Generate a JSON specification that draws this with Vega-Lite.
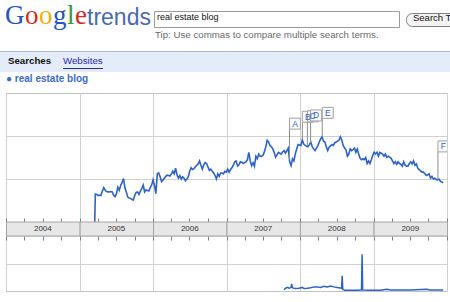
{
"$schema": "https://vega.github.io/schema/vega-lite/v6.json",
"padding": 0,
"background": "white",
"spacing": 0,
"config": {
  "view": {"stroke": null},
  "font": "Liberation Sans",
  "title": {"anchor": "start", "frame": "group", "baseline": "alphabetic", "fontWeight": "normal", "font": "Liberation Sans", "color": "#111111"}
},
"datasets": {
  "search": [
    {"w":"2005-03-17","v":0},{"w":"2005-03-20","v":0.65},{"w":"2005-03-27","v":0.64},{"w":"2005-04-03","v":0.62},{"w":"2005-04-10","v":0.62},{"w":"2005-04-17","v":0.62},{"w":"2005-04-24","v":0.72},{"w":"2005-05-01","v":0.80},{"w":"2005-05-08","v":0.74},{"w":"2005-05-15","v":0.71},{"w":"2005-05-22","v":0.70},{"w":"2005-05-29","v":0.70},{"w":"2005-06-05","v":0.71},{"w":"2005-06-12","v":0.70},{"w":"2005-06-19","v":0.62},{"w":"2005-06-26","v":0.59},{"w":"2005-07-03","v":0.66},{"w":"2005-07-10","v":0.81},{"w":"2005-07-17","v":0.74},{"w":"2005-07-24","v":0.85},{"w":"2005-07-31","v":0.92},{"w":"2005-08-07","v":1.01},{"w":"2005-08-14","v":0.80},{"w":"2005-08-21","v":0.70},{"w":"2005-08-28","v":0.58},{"w":"2005-09-04","v":0.56},{"w":"2005-09-11","v":0.55},{"w":"2005-09-18","v":0.52},{"w":"2005-09-25","v":0.51},{"w":"2005-10-02","v":0.62},{"w":"2005-10-09","v":0.69},{"w":"2005-10-16","v":0.70},{"w":"2005-10-23","v":0.64},{"w":"2005-10-30","v":0.72},{"w":"2005-11-06","v":0.78},{"w":"2005-11-13","v":0.86},{"w":"2005-11-20","v":0.70},{"w":"2005-11-27","v":0.75},{"w":"2005-12-04","v":0.73},{"w":"2005-12-11","v":0.72},{"w":"2005-12-18","v":0.80},{"w":"2005-12-25","v":0.86},
    {"w":"2006-01-01","v":0.98},{"w":"2006-01-08","v":0.85},{"w":"2006-01-15","v":0.66},{"w":"2006-01-22","v":1.12},{"w":"2006-01-29","v":1.14},{"w":"2006-02-05","v":1.05},{"w":"2006-02-12","v":0.94},{"w":"2006-02-19","v":0.97},{"w":"2006-02-26","v":1.02},{"w":"2006-03-05","v":1.06},{"w":"2006-03-12","v":1.09},{"w":"2006-03-19","v":1.08},{"w":"2006-03-26","v":1.07},{"w":"2006-04-02","v":1.12},{"w":"2006-04-09","v":1.18},{"w":"2006-04-16","v":1.12},{"w":"2006-04-23","v":1.25},{"w":"2006-04-30","v":1.10},{"w":"2006-05-07","v":1.02},{"w":"2006-05-14","v":1.08},{"w":"2006-05-21","v":1.00},{"w":"2006-05-28","v":1.05},{"w":"2006-06-04","v":1.02},{"w":"2006-06-11","v":0.96},{"w":"2006-06-18","v":1.00},{"w":"2006-06-25","v":1.05},{"w":"2006-07-02","v":1.18},{"w":"2006-07-09","v":1.26},{"w":"2006-07-16","v":1.22},{"w":"2006-07-23","v":1.24},{"w":"2006-07-30","v":1.28},{"w":"2006-08-06","v":1.32},{"w":"2006-08-13","v":1.35},{"w":"2006-08-20","v":1.42},{"w":"2006-08-27","v":1.32},{"w":"2006-09-03","v":1.23},{"w":"2006-09-10","v":1.33},{"w":"2006-09-17","v":1.38},{"w":"2006-09-24","v":1.36},{"w":"2006-10-01","v":1.28},{"w":"2006-10-08","v":1.20},{"w":"2006-10-15","v":1.23},{"w":"2006-10-22","v":1.18},{"w":"2006-10-29","v":1.14},{"w":"2006-11-05","v":1.08},{"w":"2006-11-12","v":1.00},{"w":"2006-11-19","v":1.12},{"w":"2006-11-26","v":1.06},{"w":"2006-12-03","v":1.14},{"w":"2006-12-10","v":1.14},{"w":"2006-12-17","v":1.12},{"w":"2006-12-24","v":1.18},{"w":"2006-12-31","v":1.16},
    {"w":"2007-01-07","v":1.23},{"w":"2007-01-14","v":1.16},{"w":"2007-01-21","v":1.22},{"w":"2007-01-28","v":1.26},{"w":"2007-02-04","v":1.32},{"w":"2007-02-11","v":1.40},{"w":"2007-02-18","v":1.42},{"w":"2007-02-25","v":1.30},{"w":"2007-03-04","v":1.33},{"w":"2007-03-11","v":1.40},{"w":"2007-03-18","v":1.39},{"w":"2007-03-25","v":1.36},{"w":"2007-04-01","v":1.38},{"w":"2007-04-08","v":1.40},{"w":"2007-04-15","v":1.45},{"w":"2007-04-22","v":1.62},{"w":"2007-04-29","v":1.42},{"w":"2007-05-06","v":1.31},{"w":"2007-05-13","v":1.38},{"w":"2007-05-20","v":1.30},{"w":"2007-05-27","v":1.53},{"w":"2007-06-03","v":1.47},{"w":"2007-06-10","v":1.58},{"w":"2007-06-17","v":1.53},{"w":"2007-06-24","v":1.53},{"w":"2007-07-01","v":1.55},{"w":"2007-07-08","v":1.63},{"w":"2007-07-15","v":1.74},{"w":"2007-07-22","v":1.90},{"w":"2007-07-29","v":1.86},{"w":"2007-08-05","v":1.78},{"w":"2007-08-12","v":1.75},{"w":"2007-08-19","v":1.70},{"w":"2007-08-26","v":1.62},{"w":"2007-09-02","v":1.51},{"w":"2007-09-09","v":1.56},{"w":"2007-09-16","v":1.62},{"w":"2007-09-23","v":1.60},{"w":"2007-09-30","v":1.58},{"w":"2007-10-07","v":1.63},{"w":"2007-10-14","v":1.66},{"w":"2007-10-21","v":1.60},{"w":"2007-10-28","v":1.66},{"w":"2007-11-04","v":1.72},{"w":"2007-11-11","v":1.40},{"w":"2007-11-18","v":1.31},{"w":"2007-11-25","v":1.47},{"w":"2007-12-02","v":1.42},{"w":"2007-12-09","v":1.58},{"w":"2007-12-16","v":1.70},{"w":"2007-12-23","v":1.80},{"w":"2007-12-30","v":1.79},
    {"w":"2008-01-06","v":1.78},{"w":"2008-01-13","v":1.91},{"w":"2008-01-20","v":1.81},{"w":"2008-01-27","v":1.78},{"w":"2008-02-03","v":1.76},{"w":"2008-02-10","v":1.75},{"w":"2008-02-17","v":1.80},{"w":"2008-02-24","v":1.86},{"w":"2008-03-02","v":1.75},{"w":"2008-03-09","v":1.70},{"w":"2008-03-16","v":1.66},{"w":"2008-03-23","v":1.72},{"w":"2008-03-30","v":1.77},{"w":"2008-04-06","v":1.86},{"w":"2008-04-13","v":1.93},{"w":"2008-04-20","v":1.98},{"w":"2008-04-27","v":1.88},{"w":"2008-05-04","v":1.86},{"w":"2008-05-11","v":1.75},{"w":"2008-05-18","v":1.66},{"w":"2008-05-25","v":1.74},{"w":"2008-06-01","v":1.77},{"w":"2008-06-08","v":1.80},{"w":"2008-06-15","v":1.78},{"w":"2008-06-22","v":1.84},{"w":"2008-06-29","v":1.86},{"w":"2008-07-06","v":1.88},{"w":"2008-07-13","v":1.90},{"w":"2008-07-20","v":1.98},{"w":"2008-07-27","v":1.90},{"w":"2008-08-03","v":1.78},{"w":"2008-08-10","v":1.72},{"w":"2008-08-17","v":1.68},{"w":"2008-08-24","v":1.53},{"w":"2008-08-31","v":1.58},{"w":"2008-09-07","v":1.70},{"w":"2008-09-14","v":1.66},{"w":"2008-09-21","v":1.68},{"w":"2008-09-28","v":1.72},{"w":"2008-10-05","v":1.62},{"w":"2008-10-12","v":1.70},{"w":"2008-10-19","v":1.58},{"w":"2008-10-26","v":1.48},{"w":"2008-11-02","v":1.45},{"w":"2008-11-09","v":1.47},{"w":"2008-11-16","v":1.45},{"w":"2008-11-23","v":1.50},{"w":"2008-11-30","v":1.36},{"w":"2008-12-07","v":1.42},{"w":"2008-12-14","v":1.36},{"w":"2008-12-21","v":1.45},{"w":"2008-12-28","v":1.55},
    {"w":"2009-01-04","v":1.62},{"w":"2009-01-11","v":1.58},{"w":"2009-01-18","v":1.62},{"w":"2009-01-25","v":1.53},{"w":"2009-02-01","v":1.62},{"w":"2009-02-08","v":1.60},{"w":"2009-02-15","v":1.58},{"w":"2009-02-22","v":1.53},{"w":"2009-03-01","v":1.58},{"w":"2009-03-08","v":1.50},{"w":"2009-03-15","v":1.53},{"w":"2009-03-22","v":1.51},{"w":"2009-03-29","v":1.48},{"w":"2009-04-05","v":1.42},{"w":"2009-04-12","v":1.36},{"w":"2009-04-19","v":1.40},{"w":"2009-04-26","v":1.34},{"w":"2009-05-03","v":1.40},{"w":"2009-05-10","v":1.36},{"w":"2009-05-17","v":1.34},{"w":"2009-05-24","v":1.30},{"w":"2009-05-31","v":1.40},{"w":"2009-06-07","v":1.32},{"w":"2009-06-14","v":1.30},{"w":"2009-06-21","v":1.30},{"w":"2009-06-28","v":1.36},{"w":"2009-07-05","v":1.40},{"w":"2009-07-12","v":1.35},{"w":"2009-07-19","v":1.42},{"w":"2009-07-26","v":1.32},{"w":"2009-08-02","v":1.35},{"w":"2009-08-09","v":1.25},{"w":"2009-08-16","v":1.22},{"w":"2009-08-23","v":1.19},{"w":"2009-08-30","v":1.16},{"w":"2009-09-06","v":1.16},{"w":"2009-09-13","v":1.12},{"w":"2009-09-20","v":1.08},{"w":"2009-09-27","v":1.10},{"w":"2009-10-04","v":1.12},{"w":"2009-10-11","v":1.02},{"w":"2009-10-18","v":1.06},{"w":"2009-10-25","v":1.00},{"w":"2009-11-01","v":1.02},{"w":"2009-11-08","v":0.99},{"w":"2009-11-15","v":0.98},{"w":"2009-11-22","v":1.00},{"w":"2009-11-29","v":0.95},{"w":"2009-12-06","v":0.93},{"w":"2009-12-13","v":0.91}
  ],
  "news": [
    {"w":"2007-10-14","v":0.05},{"w":"2007-10-22","v":0.10},{"w":"2007-10-31","v":0.13},{"w":"2007-11-08","v":0.10},{"w":"2007-11-15","v":0.12},{"w":"2007-11-18","v":0.14},{"w":"2007-11-21","v":0.26},{"w":"2007-11-24","v":0.12},{"w":"2007-12-02","v":0.10},{"w":"2007-12-11","v":0.09},{"w":"2007-12-27","v":0.10},{"w":"2008-01-13","v":0.13},{"w":"2008-01-21","v":0.09},{"w":"2008-02-07","v":0.10},{"w":"2008-02-23","v":0.12},{"w":"2008-03-11","v":0.15},{"w":"2008-03-27","v":0.15},{"w":"2008-04-13","v":0.13},{"w":"2008-04-29","v":0.17},{"w":"2008-05-16","v":0.15},{"w":"2008-06-01","v":0.18},{"w":"2008-06-18","v":0.15},{"w":"2008-07-04","v":0.13},{"w":"2008-07-20","v":0.11},{"w":"2008-07-26","v":0.10},{"w":"2008-07-29","v":0.55},{"w":"2008-08-01","v":0.06},{"w":"2008-08-10","v":0.03},{"w":"2008-09-08","v":0.03},{"w":"2008-10-13","v":0.03},{"w":"2008-10-28","v":0.04},{"w":"2008-11-02","v":0.04},{"w":"2008-11-05","v":1.34},{"w":"2008-11-08","v":0.04},{"w":"2008-12-02","v":0.03},{"w":"2009-02-04","v":0.03},{"w":"2009-03-09","v":0.06},{"w":"2009-03-25","v":0.04},{"w":"2009-05-14","v":0.04},{"w":"2009-07-02","v":0.04},{"w":"2009-09-23","v":0.06},{"w":"2009-10-09","v":0.04},{"w":"2009-12-13","v":0.04}
  ],
  "flags": [
    {"letter":"A","w":"2007-11-10","v":1.45,"top":2.16},
    {"letter":"B","w":"2008-01-13","v":1.91,"top":2.32},
    {"letter":"C","w":"2008-02-07","v":1.76,"top":2.33},
    {"letter":"D","w":"2008-02-23","v":1.84,"top":2.35},
    {"letter":"E","w":"2008-04-21","v":1.97,"top":2.41},
    {"letter":"F","w":"2009-11-17","v":0.99,"top":1.63}
  ],
  "years": [
    {"year":"2004","label":"2004"},{"year":"2005","label":"2005"},{"year":"2006","label":"2006"},{"year":"2007","label":"2007"},{"year":"2008","label":"2008"},{"year":"2009","label":"2009"}
  ]
},
"vconcat": [
  {"hconcat": [
    {"width": 5, "height": 50, "data": {"values": []}, "mark": "text"},
    {"width": 19.5, "height": 50, "data": {"values": []}, "mark": "text", "title": {"text": "G", "font": "Liberation Serif", "fontSize": 27, "color": "#2453c6", "offset": -29.5}},
    {"width": 13.5, "height": 50, "data": {"values": []}, "mark": "text", "title": {"text": "o", "font": "Liberation Serif", "fontSize": 27, "color": "#d42a1c", "offset": -29.5}},
    {"width": 13.5, "height": 50, "data": {"values": []}, "mark": "text", "title": {"text": "o", "font": "Liberation Serif", "fontSize": 27, "color": "#eeaf07", "offset": -29.5}},
    {"width": 13.5, "height": 50, "data": {"values": []}, "mark": "text", "title": {"text": "g", "font": "Liberation Serif", "fontSize": 27, "color": "#2453c6", "offset": -29.5}},
    {"width": 7.5, "height": 50, "data": {"values": []}, "mark": "text", "title": {"text": "l", "font": "Liberation Serif", "fontSize": 27, "color": "#2e9a31", "offset": -29.5}},
    {"width": 12, "height": 50, "data": {"values": []}, "mark": "text", "title": {"text": "e", "font": "Liberation Serif", "fontSize": 27, "color": "#d42a1c", "offset": -29.5}},
    {"width": 65.5, "height": 50, "data": {"values": []}, "mark": "text", "title": {"text": "trends", "font": "Liberation Sans Narrow, Liberation Sans, sans-serif", "fontSize": 23, "color": "#4a69b0", "offset": -29.5}},
    {"vconcat": [
      {"width": 245, "height": 10, "data": {"values": []}, "mark": "text"},
      {"width": 245, "height": 16, "view": {"stroke": "#9b9b9b", "fill": "#ffffff"}, "data": {"values": []}, "mark": "text", "title": {"text": "real estate blog", "fontSize": 9, "color": "#111111", "offset": -11, "dx": 3}},
      {"width": 245, "height": 23, "data": {"values": []}, "mark": "text", "title": {"text": "Tip: Use commas to compare multiple search terms.", "fontSize": 9.7, "color": "#6a6a6a", "offset": -11.5, "dx": 1}}
    ], "spacing": 0},
    {"width": 5, "height": 10, "data": {"values": []}, "mark": "text"},
    {"vconcat": [
      {"width": 60, "height": 12, "data": {"values": []}, "mark": "text"},
      {"width": 60, "height": 13, "view": {"stroke": "#7d7d7d", "fill": "#f3f3f3", "cornerRadius": 6}, "data": {"values": []}, "mark": "text", "title": {"text": "Search Trends", "fontSize": 9.5, "color": "#111111", "offset": -9.5, "dx": 7}}
    ], "spacing": 0}
  ], "spacing": 0},
  {"width": 450, "height": 1, "view": {"fill": "#a9bad6"}, "data": {"values": []}, "mark": "text"},
  {"hconcat": [
    {"width": 58, "height": 16, "view": {"fill": "#e5ecf9"}, "data": {"values": []}, "mark": "text", "title": {"text": "Searches", "fontSize": 9.7, "fontWeight": "bold", "color": "#111111", "offset": -14, "dx": 8}},
    {"width": 392, "height": 16, "view": {"fill": "#e5ecf9"}, "data": {"values": []}, "mark": "text", "title": {"text": "Websites", "fontSize": 9.7, "color": "#2a2aa6", "offset": -14, "dx": 5}}
  ], "spacing": 0},
  {"hconcat": [
    {"width": 63, "height": 1, "view": {"fill": "#e5ecf9"}, "data": {"values": []}, "mark": "text"},
    {"width": 40, "height": 1, "view": {"fill": "#2a2aa6"}, "data": {"values": []}, "mark": "text"},
    {"width": 347, "height": 1, "view": {"fill": "#e5ecf9"}, "data": {"values": []}, "mark": "text"}
  ], "spacing": 0},
  {"width": 450, "height": 3, "view": {"fill": "#e5ecf9"}, "data": {"values": []}, "mark": "text"},
  {"hconcat": [
    {"width": 5, "height": 1, "data": {"values": []}, "mark": "text"},
    {"vconcat": [
      {"width": 441, "height": 21, "data": {"values": []}, "mark": "text", "title": {"text": "● real estate blog", "fontSize": 10, "fontWeight": "bold", "color": "#3a6bc8", "offset": -12, "dx": 0}},
      {
        "width": 441, "height": 129,
        "view": {"stroke": "#c2c2c2"},
        "encoding": {
          "x": {"field": "w", "type": "temporal", "title": null, "scale": {"type": "utc", "domain": [{"year": 2004, "month": 1, "date": 1, "utc": true}, {"year": 2010, "month": 1, "date": 1, "utc": true}]}, "axis": {"title": null, "orient": "bottom", "labels": false, "domain": false, "ticks": true, "tickSize": -4, "tickColor": "#7f7f7f", "tickCount": {"interval": "month", "step": 3}, "grid": true, "gridColor": "#d0d0d0", "gridOpacity": {"condition": {"test": "utcmonth(datum.value) === 0", "value": 1}, "value": 0}}},
          "y": {"field": "v", "type": "quantitative", "title": null, "scale": {"domain": [0, 3]}, "axis": {"title": null, "labels": false, "ticks": false, "domain": false, "grid": true, "gridColor": "#d0d0d0", "values": [1, 2]}}
        },
        "layer": [
          {"data": {"name": "search"}, "mark": {"type": "line", "color": "#2b63c9", "strokeWidth": 1.6}},
          {"data": {"name": "flags"}, "mark": {"type": "rule", "color": "#8c8c8c", "strokeWidth": 1}, "encoding": {"y2": {"field": "top"}}},
          {"data": {"name": "flags"}, "mark": {"type": "point", "shape": "square", "size": 121, "filled": true, "fill": "#f8f8f8", "stroke": "#a2a2a2", "strokeWidth": 1, "opacity": 1, "xOffset": 5.5, "yOffset": -5.5, "clip": true}, "encoding": {"y": {"field": "top", "type": "quantitative", "title": null}}},
          {"data": {"name": "flags"}, "mark": {"type": "text", "color": "#3564c4", "fontSize": 8.5, "xOffset": 5.5, "yOffset": -5.5, "baseline": "middle", "align": "center", "clip": true}, "encoding": {"y": {"field": "top", "type": "quantitative", "title": null}, "text": {"field": "letter"}}},
          {"data": {"values": [{"t": "Search Volume index"}]}, "mark": {"type": "text", "align": "left", "baseline": "alphabetic", "dx": 3.5, "dy": 11.5, "fontSize": 8, "color": "#666666"}, "encoding": {"x": {"datum": {"year": 2004, "month": 1, "date": 1, "utc": true}, "type": "temporal"}, "y": {"datum": 3, "type": "quantitative"}, "text": {"field": "t"}}},
          {"data": {"values": [{"t": "Google Trends"}]}, "mark": {"type": "text", "align": "right", "baseline": "alphabetic", "dx": -7, "dy": 11.5, "fontSize": 8, "color": "#666666"}, "encoding": {"x": {"datum": {"year": 2010, "month": 1, "date": 1, "utc": true}, "type": "temporal"}, "y": {"datum": 3, "type": "quantitative"}, "text": {"field": "t"}}},
          {"data": {"values": [{"t": "0"}]}, "mark": {"type": "text", "align": "left", "baseline": "alphabetic", "dx": 4, "dy": -2, "fontSize": 8, "color": "#444444"}, "encoding": {"x": {"datum": {"year": 2004, "month": 1, "date": 1, "utc": true}, "type": "temporal"}, "y": {"datum": 0, "type": "quantitative"}, "text": {"field": "t"}}}
        ]
      },
      {
        "width": 441, "height": 14,
        "data": {"name": "years"},
        "encoding": {
          "x": {"field": "year", "type": "temporal", "timeUnit": "utcyear", "title": null, "scale": {"type": "utc", "domain": [{"year": 2004, "month": 1, "date": 1, "utc": true}, {"year": 2010, "month": 1, "date": 1, "utc": true}]}, "axis": null}
        },
        "layer": [
          {"mark": {"type": "rect", "fill": "#e7e7e7", "stroke": "#a5a5a5", "strokeWidth": 1},
           "encoding": {"y": {"datum": 0, "type": "quantitative", "scale": {"domain": [0, 1]}, "axis": null}, "y2": {"datum": 1}}},
          {"mark": {"type": "text", "fontSize": 8, "color": "#333333", "baseline": "middle"},
           "encoding": {"x": {"field": "year", "type": "temporal", "timeUnit": "utcyear", "bandPosition": 0.5, "title": null, "axis": null},
             "y": {"datum": 0.5, "type": "quantitative", "axis": null},
             "text": {"field": "label"}}}
        ]
      },
      {
        "width": 441, "height": 55,
        "view": {"stroke": "#c2c2c2"},
        "encoding": {
          "x": {"field": "w", "type": "temporal", "title": null, "scale": {"type": "utc", "domain": [{"year": 2004, "month": 1, "date": 1, "utc": true}, {"year": 2010, "month": 1, "date": 1, "utc": true}]}, "axis": {"title": null, "orient": "top", "labels": false, "domain": false, "ticks": true, "tickSize": -4, "tickColor": "#7f7f7f", "tickCount": {"interval": "month", "step": 3}, "grid": true, "gridColor": "#d0d0d0", "gridOpacity": {"condition": {"test": "utcmonth(datum.value) === 0", "value": 1}, "value": 0}}},
          "y": {"field": "v", "type": "quantitative", "title": null, "scale": {"domain": [0, 2]}, "axis": {"title": null, "labels": false, "ticks": false, "domain": false, "grid": true, "gridColor": "#d0d0d0", "values": [1]}}
        },
        "layer": [
          {"data": {"name": "news"}, "mark": {"type": "line", "color": "#2b63c9", "strokeWidth": 1.5}},
          {"data": {"values": [{"t": "News reference volume"}]}, "mark": {"type": "text", "align": "left", "baseline": "alphabetic", "dx": 3.5, "dy": 13, "fontSize": 8, "color": "#666666"}, "encoding": {"x": {"datum": {"year": 2004, "month": 1, "date": 1, "utc": true}, "type": "temporal"}, "y": {"datum": 2, "type": "quantitative"}, "text": {"field": "t"}}},
          {"data": {"values": [{"t": "0"}]}, "mark": {"type": "text", "align": "left", "baseline": "alphabetic", "dx": 4, "dy": -2.5, "fontSize": 8, "color": "#444444"}, "encoding": {"x": {"datum": {"year": 2004, "month": 1, "date": 1, "utc": true}, "type": "temporal"}, "y": {"datum": 0, "type": "quantitative"}, "text": {"field": "t"}}}
        ]
      }
    ], "spacing": 0, "bounds": "flush"}
  ], "spacing": 0},
  {"width": 1, "height": 7, "data": {"values": []}, "mark": "text"},
  {"hconcat": [
    {"width": 50, "height": 10, "data": {"values": []}, "mark": "text"},
    {"width": 82, "height": 10, "view": {"stroke": "#9a9a9a", "fill": "#f6f6f6", "cornerRadius": 3}, "data": {"values": []}, "mark": "text"}
  ], "spacing": 0}
]
}
